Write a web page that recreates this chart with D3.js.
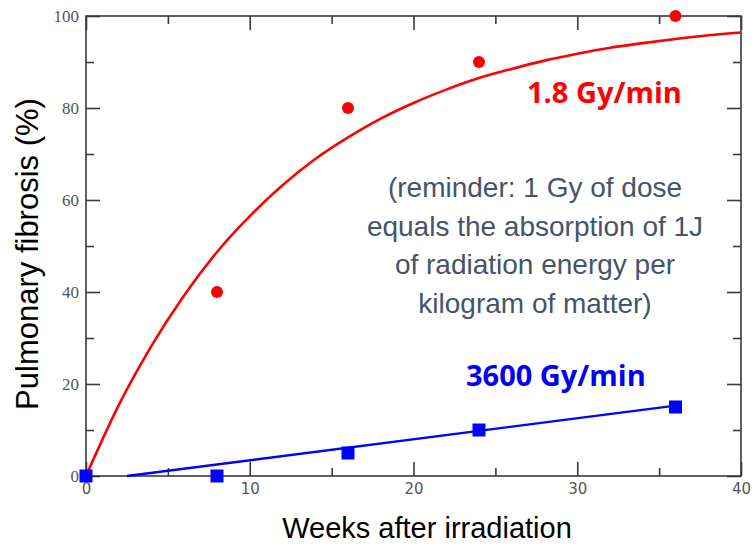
<!DOCTYPE html>
<html>
<head>
<meta charset="utf-8">
<script src="https://cdn.jsdelivr.net/npm/d3@7"></script>
<style>
  html, body { margin: 0; padding: 0; background: #fff; }
  svg { display: block; }
</style>
</head>
<body>
<svg id="chart" width="754" height="548"></svg>
<script>
// Observed incidence of pulmonary fibrosis (%) vs. weeks after irradiation
const lowRateWeeks = [8, 16, 24, 36];
const lowRateValues = [40, 80, 90, 100];
const highRateWeeks = [0, 8, 16, 24, 36];
const highRateValues = [0, 0, 5, 10, 15];

// Fitted curves
const lowFitWeeks = [0, 2, 4, 6, 8, 10, 12, 14, 16, 18, 20, 22, 24, 26, 28, 30, 32, 34, 36, 38, 40];
const lowFitValues = [0, 15.4, 28.3, 39.3, 48.7, 56.5, 63.2, 68.9, 73.6, 77.7, 81.1, 84.0, 86.5, 88.5, 90.3, 91.8, 93.1, 94.1, 95.0, 95.8, 96.4];
const highFitWeeks = [2.5, 36];
const highFitValues = [0, 15.3];

const xTicks = [0, 10, 20, 30, 40];
const yTicks = [0, 20, 40, 60, 80, 100];

const annotationLines = [
  "(reminder: 1 Gy of dose",
  "equals the absorption of 1J",
  "of radiation energy per",
  "kilogram of matter)"
];

(function draw() {
  const svg = d3.select("#chart");
  const plotLeft = 86, plotRight = 741, plotTop = 16, plotBottom = 476;

  const x = d3.scaleLinear().domain([0, 40]).range([plotLeft, plotRight]);
  const y = d3.scaleLinear().domain([0, 100]).range([plotBottom, plotTop]);

  const axisColor = "#3a3a3a";
  const minorX = d3.range(5, 40, 10);
  const minorY = d3.range(10, 100, 20);

  function styleAxis(g) {
    g.select(".domain").remove();
    g.selectAll(".tick line").attr("stroke", axisColor).attr("stroke-width", 1.6);
  }

  // Bottom axis: major ticks inward with labels
  svg.append("g")
    .attr("transform", `translate(0,${plotBottom})`)
    .call(d3.axisBottom(x).tickValues(xTicks).tickSizeInner(-14).tickSizeOuter(0))
    .call(styleAxis)
    .call(g => g.selectAll(".tick text")
      .attr("y", 7).attr("dy", "0.71em")
      .attr("font-family", "DejaVu Sans, sans-serif").attr("font-size", 15).attr("fill", "#555"));
  svg.append("g")
    .attr("transform", `translate(0,${plotBottom})`)
    .call(d3.axisBottom(x).tickValues(minorX).tickSizeInner(-8).tickSizeOuter(0).tickFormat(""))
    .call(styleAxis);

  // Left axis
  svg.append("g")
    .attr("transform", `translate(${plotLeft},0)`)
    .call(d3.axisLeft(y).tickValues(yTicks).tickSizeInner(-14).tickSizeOuter(0))
    .call(styleAxis)
    .call(g => g.selectAll(".tick text")
      .attr("x", -7)
      .attr("font-family", "Liberation Serif, serif").attr("font-size", 17).attr("fill", "#555"));
  svg.append("g")
    .attr("transform", `translate(${plotLeft},0)`)
    .call(d3.axisLeft(y).tickValues(minorY).tickSizeInner(-8).tickSizeOuter(0).tickFormat(""))
    .call(styleAxis);

  // Top axis (ticks only)
  svg.append("g")
    .attr("transform", `translate(0,${plotTop})`)
    .call(d3.axisTop(x).tickValues(xTicks).tickSizeInner(-14).tickSizeOuter(0).tickFormat(""))
    .call(styleAxis);
  svg.append("g")
    .attr("transform", `translate(0,${plotTop})`)
    .call(d3.axisTop(x).tickValues(minorX).tickSizeInner(-8).tickSizeOuter(0).tickFormat(""))
    .call(styleAxis);

  // Right axis (ticks only)
  svg.append("g")
    .attr("transform", `translate(${plotRight},0)`)
    .call(d3.axisRight(y).tickValues(yTicks).tickSizeInner(-14).tickSizeOuter(0).tickFormat(""))
    .call(styleAxis);
  svg.append("g")
    .attr("transform", `translate(${plotRight},0)`)
    .call(d3.axisRight(y).tickValues(minorY).tickSizeInner(-8).tickSizeOuter(0).tickFormat(""))
    .call(styleAxis);

  // Frame
  svg.append("rect")
    .attr("x", x(0)).attr("y", y(100))
    .attr("width", x(40) - x(0)).attr("height", y(0) - y(100))
    .attr("fill", "none").attr("stroke", axisColor).attr("stroke-width", 1.6);

  const line = d3.line().x(d => x(d[0])).y(d => y(d[1])).curve(d3.curveMonotoneX);

  // Fitted curves
  svg.append("path")
    .datum(lowFitWeeks.map((w, i) => [w, lowFitValues[i]]))
    .attr("d", line)
    .attr("fill", "none").attr("stroke", "#ff0000").attr("stroke-width", 2.6);

  svg.append("path")
    .datum(highFitWeeks.map((w, i) => [w, highFitValues[i]]))
    .attr("d", d3.line().x(d => x(d[0])).y(d => y(d[1])))
    .attr("fill", "none").attr("stroke", "#0000ff").attr("stroke-width", 2.4);

  // Observed points
  svg.selectAll("circle.low")
    .data(lowRateWeeks.map((w, i) => [w, lowRateValues[i]]))
    .join("circle")
    .attr("class", "low")
    .attr("cx", d => x(d[0])).attr("cy", d => y(d[1]))
    .attr("r", 6).attr("fill", "#ff0000");

  const sq = 13;
  svg.selectAll("rect.high")
    .data(highRateWeeks.map((w, i) => [w, highRateValues[i]]))
    .join("rect")
    .attr("class", "high")
    .attr("x", d => x(d[0]) - sq / 2).attr("y", d => y(d[1]) - sq / 2)
    .attr("width", sq).attr("height", sq)
    .attr("fill", "#0000ff");

  // Series labels
  svg.append("text")
    .attr("x", 527).attr("y", 103)
    .attr("font-family", "Open Sans, sans-serif").attr("font-weight", "bold")
    .attr("font-size", 29).attr("fill", "#ff0000")
    .text("1.8 Gy/min");

  svg.append("text")
    .attr("x", 466).attr("y", 386)
    .attr("font-family", "Open Sans, sans-serif").attr("font-weight", "bold")
    .attr("font-size", 29).attr("fill", "#0000ff")
    .text("3600 Gy/min");

  // Dose reminder
  svg.append("g")
    .selectAll("text")
    .data(annotationLines)
    .join("text")
    .attr("x", 535).attr("y", (d, i) => 197 + i * 38.5)
    .attr("text-anchor", "middle")
    .attr("font-family", "Liberation Sans, Arial, sans-serif")
    .attr("font-size", 28).attr("fill", "#44546a")
    .text(d => d);

  // Axis titles
  svg.append("text")
    .attr("x", 427).attr("y", 538)
    .attr("text-anchor", "middle")
    .attr("font-family", "Liberation Sans, Arial, sans-serif")
    .attr("font-size", 29).attr("fill", "#000")
    .text("Weeks after irradiation");

  svg.append("text")
    .attr("transform", "translate(38,254) rotate(-90)")
    .attr("text-anchor", "middle")
    .attr("font-family", "Liberation Sans, Arial, sans-serif")
    .attr("font-size", 31).attr("fill", "#000")
    .text("Pulmonary fibrosis (%)");
})();
</script>
</body>
</html>
